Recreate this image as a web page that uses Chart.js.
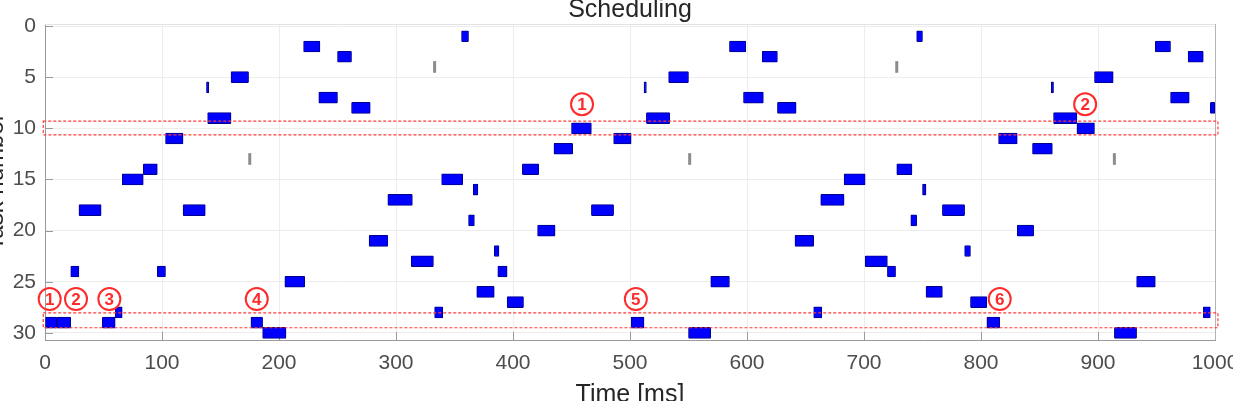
<!DOCTYPE html>
<html>
<head>
<meta charset="utf-8">
<title>Scheduling</title>
<script src="https://cdn.jsdelivr.net/npm/chart.js@4.4.0/dist/chart.umd.min.js"></script>
<style>
  html, body { margin: 0; padding: 0; background: #fff; overflow: hidden; width: 1233px; height: 401px; }
  #wrap { position: absolute; left: -20px; top: -12px; width: 1260px; height: 430px; }
</style>
</head>
<body>
<div id="wrap"><canvas id="schedChart"></canvas></div>
<script>
// Job runs, one line per task: task number, start and end time (ms)
const jobTask = [
  1, 1,
  2, 2, 2,
  3, 3, 3,
  5, 5, 5,
  6, 6, 6,
  7, 7, 7,
  8, 8, 8,
  9, 9, 9,
  10, 10,
  11, 11, 11,
  12, 12,
  14, 14, 14,
  15, 15, 15,
  16, 16,
  17, 17,
  18, 18, 18, 18,
  19, 19,
  20, 20,
  21, 21,
  22, 22,
  23, 23,
  24, 24, 24, 24,
  25, 25, 25,
  26, 26,
  27, 27,
  28, 28, 28, 28,
  29, 29, 29, 29, 29, 29,
  30, 30, 30
];
const jobStart = [
  356, 745,
  221, 585, 949,
  250, 613, 977,
  159, 533, 897,
  138, 512, 860,
  234, 597, 962,
  262, 626, 996,
  139, 514, 862,
  450, 882,
  103, 486, 815,
  435, 844,
  84, 408, 728,
  66, 339, 683,
  366, 750,
  293, 663,
  29, 118, 467, 767,
  362, 740,
  421, 831,
  277, 641,
  384, 786,
  313, 701,
  22, 96, 387, 720,
  205, 569, 933,
  369, 753,
  395, 791,
  60, 333, 657, 990,
  0, 10, 49, 176, 501, 805,
  186, 550, 914
];
const jobEnd = [
  362, 750,
  235, 599, 962,
  262, 626, 990,
  174, 550, 913,
  140, 514, 862,
  250, 614, 978,
  278, 642, 1000,
  159, 534, 882,
  467, 897,
  118, 501, 831,
  451, 861,
  96, 422, 741,
  84, 357, 701,
  370, 753,
  314, 683,
  48, 137, 486, 786,
  367, 745,
  436, 845,
  293, 657,
  388, 791,
  332, 720,
  29, 103, 395, 727,
  222, 585, 949,
  384, 767,
  409, 805,
  66, 340, 664, 996,
  10, 22, 60, 186, 512, 816,
  206, 569, 933
];

// Very short runs (grey marks)
const shortTask = [4, 4, 13, 13, 13];
const shortTime = [332, 727, 174, 550, 913];

// Axis ticks
const xTicks = [0, 100, 200, 300, 400, 500, 600, 700, 800, 900, 1000];
const yTicks = [0, 5, 10, 15, 20, 25, 30];

// Highlighted rows (dashed boxes) and circled marks
const boxTop = [9.3, 28.05];
const boxBottom = [10.65, 29.5];
const noteText = ['1', '2', '1', '2', '3', '4', '5', '6'];
const noteTime = [459, 889, 4, 26.5, 55, 181, 505, 816];
const noteTask = [7.65, 7.65, 26.7, 26.7, 26.7, 26.7, 26.7, 26.7];

const FONT = '"Liberation Sans", Arial, Helvetica, sans-serif';

// frame: inward tick marks, top/right box edges
const framePlugin = {
  id: 'frame',
  beforeDatasetsDraw(chart) {
    const { ctx, chartArea: a, scales: { x, y } } = chart;
    ctx.save();
    ctx.strokeStyle = '#9a9a9a';
    ctx.lineWidth = 1;
    ctx.beginPath();
    xTicks.forEach(v => {
      const px = Math.round(x.getPixelForValue(v)) + 0.5;
      ctx.moveTo(px, a.bottom);
      ctx.lineTo(px, a.bottom - 8);
    });
    yTicks.forEach(v => {
      const py = Math.round(y.getPixelForValue(v)) + 0.5;
      ctx.moveTo(a.left, py);
      ctx.lineTo(a.left + 8, py);
    });
    ctx.stroke();
    ctx.strokeStyle = '#e2e2e2';
    ctx.beginPath();
    ctx.moveTo(a.left, a.top + 0.5);
    ctx.lineTo(a.right, a.top + 0.5);
    ctx.stroke();
    ctx.strokeStyle = '#b4b4b4';
    ctx.beginPath();
    ctx.moveTo(a.right + 0.5, a.top);
    ctx.lineTo(a.right + 0.5, a.bottom);
    ctx.stroke();
    ctx.restore();
  }
};

// red dashed boxes and circled numbers
const notePlugin = {
  id: 'notes',
  afterDatasetsDraw(chart) {
    const { ctx, scales: { x, y } } = chart;
    ctx.save();
    ctx.strokeStyle = '#ff3b3b';
    ctx.lineWidth = 1.2;
    ctx.setLineDash([3, 2]);
    boxTop.forEach((t, i) => {
      const x0 = x.getPixelForValue(-1.5);
      const x1 = x.getPixelForValue(1002.5);
      const y0 = y.getPixelForValue(t);
      const y1 = y.getPixelForValue(boxBottom[i]);
      ctx.strokeRect(x0, y0, x1 - x0, y1 - y0);
    });
    ctx.setLineDash([]);
    ctx.lineWidth = 2;
    ctx.strokeStyle = '#ff2a2a';
    ctx.fillStyle = '#ff2a2a';
    ctx.font = 'bold 17px ' + FONT;
    ctx.textAlign = 'center';
    ctx.textBaseline = 'middle';
    noteText.forEach((txt, i) => {
      const cx = x.getPixelForValue(noteTime[i]);
      const cy = y.getPixelForValue(noteTask[i]);
      ctx.beginPath();
      ctx.arc(cx, cy, 11, 0, Math.PI * 2);
      ctx.stroke();
      ctx.fillText(txt, cx, cy + 1);
    });
    ctx.restore();
  }
};

const ctx = document.getElementById('schedChart').getContext('2d');
const schedChart = new Chart(ctx, {
  type: 'bar',
  data: {
    datasets: [
      {
        label: 'Jobs',
        data: jobTask.map((t, i) => ({ y: t, x: [jobStart[i], jobEnd[i]] })),
        backgroundColor: '#0000ff',
        borderColor: '#00008a',
        borderWidth: 1,
        borderSkipped: false,
        borderRadius: 1,
        barThickness: 11,
        grouped: false
      },
      {
        label: 'Short',
        data: shortTask.map((t, i) => ({ y: t, x: [shortTime[i], shortTime[i] + 2] })),
        backgroundColor: '#8c8c8c',
        borderWidth: 0,
        barThickness: 11,
        grouped: false
      }
    ]
  },
  options: {
    indexAxis: 'y',
    responsive: true,
    maintainAspectRatio: false,
    animation: false,
    layout: { padding: { left: 0, right: 25, top: 0, bottom: 0 } },
    plugins: {
      legend: { display: false },
      tooltip: { enabled: false },
      title: {
        display: true,
        fullSize: false,
        text: 'Scheduling',
        color: '#262626',
        font: { family: FONT, size: 25, weight: 'normal', lineHeight: 1.1 },
        padding: { top: 8.5, bottom: 0 }
      }
    },
    scales: {
      x: {
        type: 'linear',
        position: 'bottom',
        min: 0,
        max: 1000,
        afterBuildTicks: s => { s.ticks = xTicks.map(v => ({ value: v })); },
        afterFit: s => { s.height = 78; s.paddingRight = 0; },
        grid: { color: '#ededed', drawTicks: false },
        border: { display: true, color: '#9a9a9a' },
        ticks: {
          padding: 10.4, color: '#4d4d4d', maxRotation: 0,
          font: { family: FONT, size: 21 },
          callback: v => String(v)
        },
        title: {
          display: true,
          text: 'Time [ms]',
          color: '#262626',
          font: { family: FONT, size: 25 },
          padding: { top: 0, bottom: 8.2 }
        }
      },
      y: {
        type: 'linear',
        reverse: true,
        offset: false,
        min: -0.2,
        max: 30.7,
        afterBuildTicks: s => { s.ticks = yTicks.map(v => ({ value: v })); },
        afterFit: s => { s.width = 65; },
        grid: { color: '#ededed', drawTicks: false, offset: false },
        border: { display: true, color: '#9a9a9a' },
        ticks: { padding: 9, color: '#4d4d4d', font: { family: FONT, size: 21 } },
        title: {
          display: true,
          text: 'Task number',
          color: '#262626',
          font: { family: FONT, size: 24 },
          padding: { top: 2, bottom: 0 }
        }
      }
    }
  },
  plugins: [framePlugin, notePlugin]
});
</script>
</body>
</html>
